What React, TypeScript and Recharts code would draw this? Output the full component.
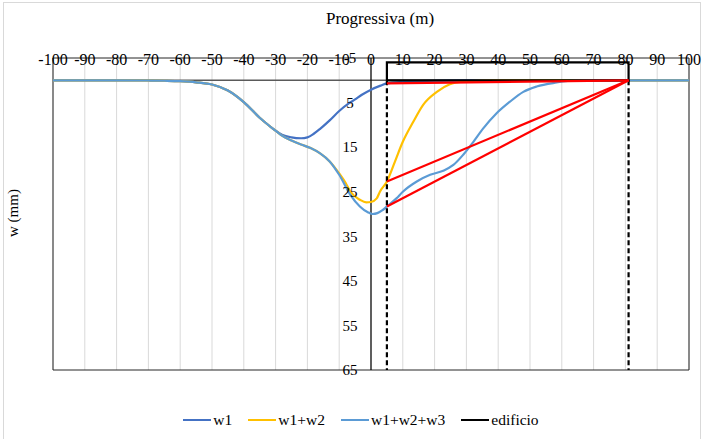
import React from "react";
import {
  CartesianGrid,
  Line,
  LineChart,
  ReferenceArea,
  ReferenceDot,
  ReferenceLine,
  XAxis,
  YAxis,
} from "recharts";

const FONT = "'Liberation Serif', 'DejaVu Serif', serif";

// tick labels
const xTicks = [-100, -90, -80, -70, -60, -50, -40, -30, -20, -10, 0, 10, 20, 30, 40, 50, 60, 70, 80, 90, 100];
const yTicks = [-5, 5, 15, 25, 35, 45, 55, 65];
const yGrid = [5, 15, 25, 35, 45, 55];

// w1
const w1X = [-100, -80, -70, -65, -60, -55, -50, -45, -40, -35, -32, -30, -28, -25, -22, -20, -18, -16, -13, -10, -7, -5, -3, 0, 3, 5, 10, 15, 20, 30, 100];
const w1Y = [0, 0, 0.05, 0.1, 0.2, 0.45, 0.95, 2.3, 4.9, 8.4, 10.2, 11.3, 12.2, 12.8, 13.0, 12.8, 12.0, 10.9, 9.0, 6.9, 5.2, 4.3, 3.3, 2.1, 1.2, 0.7, 0.35, 0.2, 0.1, 0, 0];

// w1+w2
const w12X = [-100, -80, -70, -65, -60, -55, -50, -45, -40, -35, -32, -30, -28, -25, -22, -19, -16, -13, -10, -8, -6.5, -3.5, -1.5, 0, 1.8, 2.8, 5, 7.5, 10, 13.3, 16.4, 20.7, 24.8, 29, 35, 40, 100];
const w12Y = [0, 0, 0.05, 0.1, 0.2, 0.45, 0.95, 2.3, 4.9, 8.4, 10.2, 11.3, 12.4, 13.5, 14.4, 15.2, 16.4, 18.2, 20.9, 23.0, 25.0, 26.8, 27.4, 27.3, 26.5, 25.0, 22.7, 18.3, 13.8, 9.3, 5.5, 2.6, 0.9, 0.3, 0.05, 0, 0];

// w1+w2+w3
const w123X = [-100, -80, -70, -65, -60, -55, -50, -45, -40, -35, -32, -30, -28, -25, -22, -19, -16, -13, -10, -6.5, -3.5, -1, 0.5, 2, 3.5, 5, 8, 10, 14.4, 18.6, 22.7, 25.9, 29, 32.2, 35.3, 39.5, 43.7, 47.9, 52.1, 58.4, 62.5, 70, 100];
const w123Y = [0, 0, 0.05, 0.1, 0.2, 0.45, 0.95, 2.3, 4.9, 8.4, 10.2, 11.3, 12.4, 13.5, 14.4, 15.2, 16.4, 18.2, 21.2, 25.7, 28.3, 29.6, 30.0, 29.8, 29.2, 28.3, 26.5, 25.0, 22.7, 21.2, 20.3, 19.0, 16.7, 13.8, 10.8, 7.4, 4.8, 2.6, 1.4, 0.5, 0.1, 0, 0];

// edificio
const edX = [5, 5, 81, 81, 5];
const edY = [0, -4, -4, 0, 0];

// fondazioni (dashed)
const leftPileX = [5, 5];
const rightPileX = [81, 81];
const pileY = [0, 65];

// red settlement lines
const redX = [5, 81];
const red1Y = [0.7, 0];
const red2Y = [22.7, 0];
const red3Y = [28.3, 0];

const toPts = (xs: number[], ys: number[]) => xs.map((x, i) => ({ x, w: ys[i] }));

const XTick = (props: any) => {
  const { x, y, payload } = props;
  return (
    <text x={x} y={y + 7} textAnchor="middle" fontSize={16} fontFamily={FONT} fill="#000">
      {payload.value}
    </text>
  );
};

const YLabel = (props: any) => {
  const { cx, cy, value } = props;
  return (
    <text x={cx - 21} y={cy} dy="0.35em" textAnchor="middle" fontSize={15} fontFamily={FONT} fill="#000">
      {value}
    </text>
  );
};

const legendItems = [
  { name: "w1", color: "#4472C4" },
  { name: "w1+w2", color: "#FFC000" },
  { name: "w1+w2+w3", color: "#5B9BD5" },
  { name: "edificio", color: "#000000" },
];

export default function App() {
  return (
    <div style={{ position: "absolute", left: 0, top: 0, width: 702, height: 439, background: "#fff", overflow: "hidden" }}>
      <div style={{ position: "absolute", left: 3, top: 2, width: 696, height: 460, border: "1px solid #d9d9d9" }} />
      <LineChart
        width={702}
        height={439}
        margin={{ top: 28, right: 13, bottom: 69, left: 53 }}
        style={{ position: "absolute", left: 0, top: 0 }}
      >
        <CartesianGrid stroke="#d9d9d9" horizontalValues={yGrid} verticalValues={xTicks} />
        <XAxis
          dataKey="x"
          type="number"
          orientation="top"
          domain={[-100, 100]}
          ticks={xTicks}
          height={30}
          tickSize={0}
          tickMargin={0}
          axisLine={false}
          tick={<XTick />}
          interval={0}
          allowDataOverflow
        />
        <YAxis type="number" reversed domain={[-5, 65]} ticks={yTicks} width={0} tick={false} axisLine={false} tickLine={false} allowDataOverflow />
        <ReferenceLine y={0} stroke="#5a5a5a" strokeWidth={1.5} />
        <ReferenceLine x={0} stroke="#000" strokeWidth={1.2} />
        <ReferenceArea x1={-100} x2={100} y1={-5} y2={65} fill="none" stroke="#262626" strokeWidth={1} />
        {yTicks.map((t) => (
          <ReferenceDot key={t} x={0} y={t} r={0} shape={(p: any) => <YLabel {...p} value={t} />} />
        ))}
        <Line data={toPts(w1X, w1Y)} dataKey="w" name="w1" type="monotone" stroke="#4472C4" strokeWidth={2.2} dot={false} isAnimationActive={false} />
        <Line data={toPts(w12X, w12Y)} dataKey="w" name="w1+w2" type="monotone" stroke="#FFC000" strokeWidth={2.2} dot={false} isAnimationActive={false} />
        <Line data={toPts(w123X, w123Y)} dataKey="w" name="w1+w2+w3" type="monotone" stroke="#5B9BD5" strokeWidth={2.2} dot={false} isAnimationActive={false} />
        <Line data={toPts(edX, edY)} dataKey="w" name="edificio" type="linear" stroke="#000" strokeWidth={2.2} dot={false} isAnimationActive={false} />
        <Line data={toPts(leftPileX, pileY)} dataKey="w" legendType="none" type="linear" stroke="#000" strokeWidth={2.2} strokeDasharray="5 3" dot={false} isAnimationActive={false} />
        <Line data={toPts(rightPileX, pileY)} dataKey="w" legendType="none" type="linear" stroke="#000" strokeWidth={2.2} strokeDasharray="5 3" dot={false} isAnimationActive={false} />
        <Line data={toPts(redX, red1Y)} dataKey="w" legendType="none" type="linear" stroke="#FF0000" strokeWidth={2.2} dot={false} isAnimationActive={false} />
        <Line data={toPts(redX, red2Y)} dataKey="w" legendType="none" type="linear" stroke="#FF0000" strokeWidth={2.2} dot={false} isAnimationActive={false} />
        <Line data={toPts(redX, red3Y)} dataKey="w" legendType="none" type="linear" stroke="#FF0000" strokeWidth={2.2} dot={false} isAnimationActive={false} />
      </LineChart>
      <div style={{ position: "absolute", left: 0, top: 9, width: 760, textAlign: "center", fontFamily: FONT, fontSize: 17 }}>
        Progressiva (m)
      </div>
      <div
        style={{
          position: "absolute",
          left: 13,
          top: 213,
          transform: "translate(-50%, -50%) rotate(-90deg)",
          fontFamily: FONT,
          fontSize: 15,
          whiteSpace: "nowrap",
        }}
      >
        w (mm)
      </div>
      <div
        style={{
          position: "absolute",
          left: 18,
          top: 411,
          width: 702,
          display: "flex",
          justifyContent: "center",
          alignItems: "center",
          fontFamily: FONT,
          fontSize: 15.5,
        }}
      >
        {legendItems.map((it) => (
          <div key={it.name} style={{ display: "flex", alignItems: "center", marginRight: 16 }}>
            <div style={{ width: 28, height: 2.5, background: it.color, marginRight: 2 }} />
            <span>{it.name}</span>
          </div>
        ))}
      </div>
    </div>
  );
}
